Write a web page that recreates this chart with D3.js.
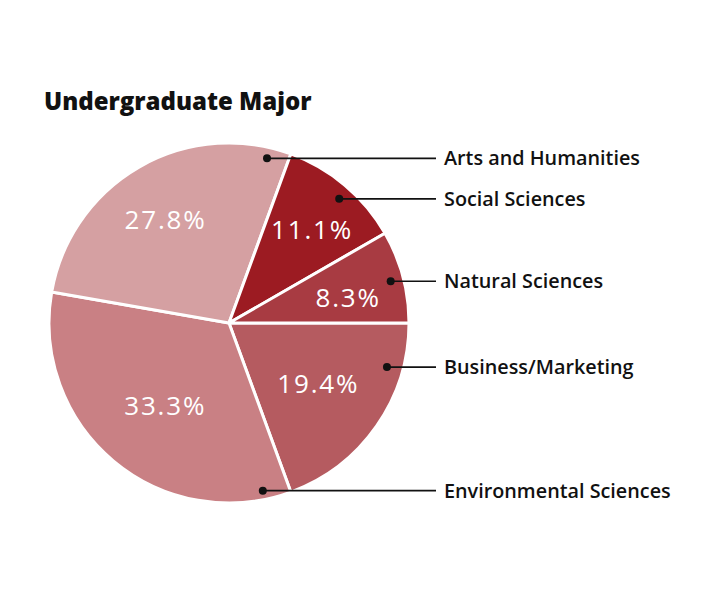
<!DOCTYPE html>
<html><head><meta charset="utf-8">
<script src="https://cdn.jsdelivr.net/npm/d3@7"></script>
<style>body{margin:0;background:#fff}svg{display:block}</style>
</head><body>
<svg id="c" width="710" height="593"></svg>
<script>
const categories = ["Business/Marketing","Environmental Sciences","Arts and Humanities","Social Sciences","Natural Sciences"];
const values = [19.4, 33.3, 27.8, 11.1, 8.3];
const colors = ["#b55b60","#c98084","#d5a0a2","#9c1b22","#a83b42"];
const title = "Undergraduate Major";
// layout: leader dot position [angle deg clockwise from top, radius px]
const dotPos = [[105.6,164],[168.6,171],[13,169],[41.6,166],[75.5,167]];
// layout: nudges of the percentage labels from the arc centroid
const pctNudge = [[-5,-5],[10,-6],[-6,-4],[9,-5],[8,4]];

const svg = d3.select("#c");
const cx = 229, cy = 323, R = 180;

svg.append("text").attr("x",44).attr("y",110)
  .attr("font-family","'Open Sans', sans-serif").attr("font-weight",800)
  .attr("font-size",24).attr("fill","#111").text(title);

const pie = d3.pie().sort(null).startAngle(Math.PI/2).endAngle(Math.PI/2 + 2*Math.PI)
  .value(d=>d.v);
const data = categories.map((c,i)=>({c, v:values[i], col:colors[i], dp:dotPos[i], nd:pctNudge[i]}));
const arcs = pie(data);
const arc = d3.arc().innerRadius(0).outerRadius(R);
const g = svg.append("g").attr("transform",`translate(${cx},${cy})`);
g.selectAll("path").data(arcs).join("path")
  .attr("d",arc).attr("fill",d=>d.data.col)
  .attr("stroke","#fff").attr("stroke-width",3).attr("stroke-linejoin","round");

const labelArc = d3.arc().innerRadius(115).outerRadius(115);
g.selectAll("text.pct").data(arcs).join("text").attr("class","pct")
  .attr("transform",d=>{const c=labelArc.centroid(d);return `translate(${c[0]+d.data.nd[0]},${c[1]+d.data.nd[1]})`;})
  .attr("text-anchor","middle").attr("dy","0.36em")
  .attr("font-family","'Open Sans', sans-serif").attr("font-size",26)
  .attr("letter-spacing",1.8)
  .attr("fill","#fff").text(d=>d3.format(".1f")(d.data.v)+"%");

const lineEnd = 436, labelX = 444;
arcs.forEach(d=>{
  const a = d.data.dp[0]*Math.PI/180, dr = d.data.dp[1];
  const x = cx + dr*Math.sin(a), y = cy - dr*Math.cos(a);
  svg.append("line").attr("x1",x).attr("y1",y).attr("x2",lineEnd).attr("y2",y)
    .attr("stroke","#111").attr("stroke-width",1.6);
  svg.append("circle").attr("cx",x).attr("cy",y).attr("r",4).attr("fill","#111");
  svg.append("text").attr("x",labelX).attr("y",y).attr("dy","0.36em")
    .attr("font-family","'Open Sans', sans-serif").attr("font-weight",600)
    .attr("font-size",19.8).attr("fill","#111").text(d.data.c);
});
</script>
</body></html>
